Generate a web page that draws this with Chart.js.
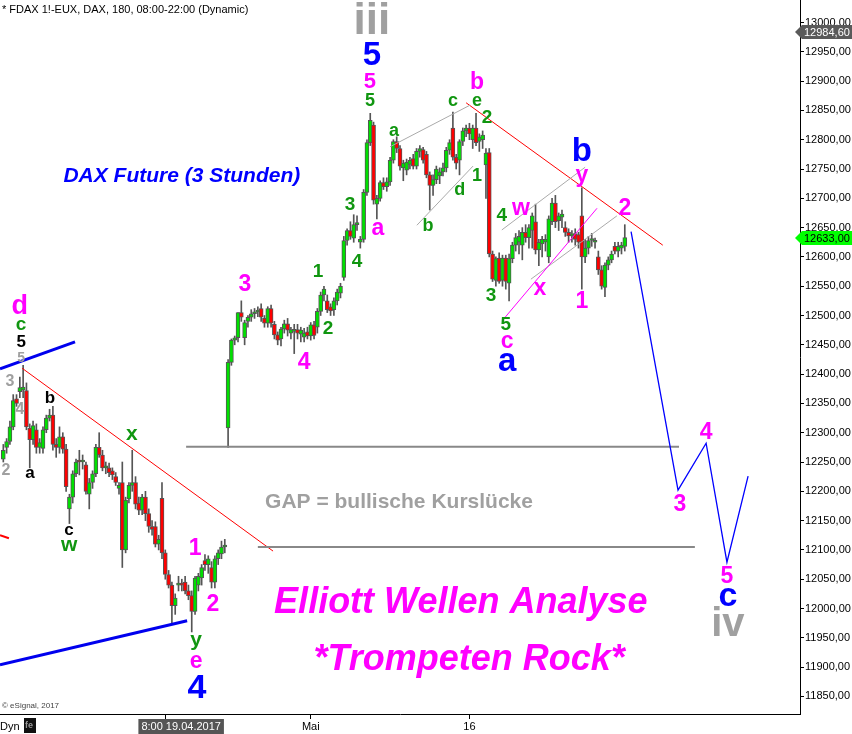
<!DOCTYPE html>
<html>
<head>
<meta charset="utf-8">
<script src="https://cdn.jsdelivr.net/npm/chart.js@4.4.1/dist/chart.umd.min.js"></script>
<style>
  html, body { margin: 0; padding: 0; background: #fff; }
  #wrap { width: 852px; height: 734px; position: relative; }
</style>
</head>
<body>
<div id="wrap"><canvas id="myChart"></canvas></div>
<script>
// 3-Stunden-Kerzen FDAX (Index = Kerze Nr.)
const openP = [
  12255,12275,12285,12310,12358,12370,12373,12372,12308,12288,
  12305,12275,12273,12305,12325,12330,12280,12275,12293,12272,
  12170,12190,12230,12253,12250,12245,12195,12215,12230,12275,
  12262,12240,12240,12235,12225,12205,12215,12100,12187,12210,
  12215,12180,12168,12190,12162,12140,12140,12110,12188,12095,
  12058,12040,12005,12040,12042,12045,12030,12022,11995,12040,
  12052,12082,12075,12070,12045,12085,12093,12105,12308,12420,
  12458,12462,12505,12462,12490,12497,12503,12506,12512,12495,
  12487,12512,12485,12467,12460,12477,12486,12470,12473,12476,
  12468,12463,12472,12465,12484,12480,12507,12535,12525,12515,
  12510,12525,12538,12565,12628,12645,12632,12655,12625,12630,
  12710,12795,12825,12690,12700,12727,12720,12728,12765,12797,
  12785,12752,12748,12758,12768,12755,12780,12783,12775,12740,
  12722,12732,12738,12745,12752,12782,12820,12770,12765,12797,
  12815,12820,12800,12820,12797,12800,12757,12778,12605,12560,
  12598,12560,12598,12555,12597,12620,12625,12620,12642,12633,
  12645,12660,12612,12622,12625,12600,12660,12692,12662,12668,
  12650,12642,12636,12640,12638,12670,12600,12615,12628,12625,
  12600,12578,12548,12586,12595,12618,12610,12615,12618
];
const highP = [
  12280,12290,12320,12365,12365,12395,12415,12385,12315,12320,
  12315,12290,12310,12330,12340,12345,12290,12310,12300,12280,
  12195,12235,12255,12270,12262,12250,12222,12235,12280,12300,
  12270,12250,12248,12240,12232,12215,12250,12190,12215,12270,
  12225,12190,12195,12200,12170,12150,12148,12125,12215,12100,
  12065,12045,12025,12055,12050,12055,12040,12030,12055,12060,
  12075,12092,12090,12080,12090,12100,12115,12118,12425,12460,
  12465,12505,12525,12492,12500,12510,12512,12515,12520,12500,
  12515,12518,12490,12472,12480,12492,12495,12480,12485,12485,
  12480,12478,12480,12488,12490,12512,12540,12550,12535,12520,
  12530,12545,12555,12635,12648,12660,12672,12670,12635,12715,
  12800,12845,12830,12705,12730,12735,12735,12770,12800,12805,
  12790,12765,12767,12770,12775,12785,12790,12787,12780,12745,
  12740,12755,12752,12760,12787,12800,12847,12775,12800,12820,
  12825,12828,12825,12845,12810,12815,12785,12785,12610,12600,
  12607,12603,12603,12605,12625,12640,12645,12650,12655,12655,
  12675,12690,12630,12635,12638,12670,12700,12705,12675,12680,
  12660,12648,12645,12648,12642,12718,12630,12635,12640,12632,
  12610,12585,12590,12600,12610,12625,12625,12625,12655
];
const lowP = [
  12250,12265,12280,12305,12345,12360,12360,12305,12240,12280,
  12265,12265,12265,12300,12320,12270,12258,12265,12265,12200,
  12145,12180,12225,12228,12238,12195,12170,12205,12225,12258,
  12235,12230,12225,12220,12210,12195,12070,12095,12180,12200,
  12170,12160,12160,12150,12130,12125,12105,12100,12085,12050,
  12035,11975,11990,12030,12030,12025,12015,11960,11990,12030,
  12040,12065,12060,12035,12035,12075,12085,12095,12275,12415,
  12450,12455,12490,12450,12480,12490,12495,12498,12490,12480,
  12480,12480,12460,12450,12448,12470,12465,12460,12435,12460,
  12455,12455,12460,12458,12460,12470,12500,12525,12505,12500,
  12500,12518,12530,12560,12620,12630,12625,12645,12615,12625,
  12705,12790,12690,12665,12695,12715,12712,12722,12760,12778,
  12748,12730,12740,12750,12750,12750,12770,12760,12735,12680,
  12705,12725,12725,12738,12745,12775,12765,12750,12740,12790,
  12805,12800,12785,12790,12780,12785,12700,12600,12558,12550,
  12555,12550,12545,12525,12590,12610,12605,12595,12625,12615,
  12615,12605,12585,12600,12610,12590,12655,12650,12645,12650,
  12635,12625,12625,12620,12615,12545,12590,12605,12618,12615,
  12570,12545,12532,12578,12590,12605,12600,12605,12610
];
const closeP = [
  12270,12285,12310,12355,12350,12377,12378,12310,12288,12312,
  12275,12283,12305,12325,12330,12280,12275,12293,12272,12208,
  12190,12230,12250,12250,12252,12200,12215,12230,12275,12262,
  12240,12242,12232,12228,12215,12210,12100,12185,12210,12215,
  12178,12168,12190,12162,12140,12135,12110,12118,12095,12058,
  12040,12005,12018,12042,12040,12030,12022,11995,12052,12055,
  12070,12075,12085,12045,12085,12095,12105,12108,12420,12458,
  12462,12505,12497,12488,12497,12503,12506,12508,12497,12487,
  12512,12487,12467,12458,12477,12486,12475,12476,12474,12470,
  12475,12470,12465,12484,12466,12507,12535,12545,12510,12508,
  12525,12540,12550,12628,12645,12635,12655,12658,12630,12710,
  12795,12833,12697,12700,12727,12720,12728,12765,12797,12785,
  12755,12760,12762,12765,12755,12780,12785,12765,12740,12722,
  12732,12750,12745,12752,12782,12795,12770,12760,12797,12815,
  12820,12810,12820,12795,12805,12808,12777,12605,12562,12597,
  12558,12598,12558,12597,12620,12633,12635,12642,12633,12650,
  12670,12612,12625,12630,12630,12665,12692,12660,12670,12673,
  12642,12636,12637,12630,12625,12600,12615,12628,12629,12626,
  12578,12550,12586,12595,12605,12610,12618,12620,12633
];

// Achsen
const yTickVals = [];
for (let v = 11850; v <= 13000; v += 50) yTickVals.push(v);
const xTickIdx = [49, 93, 141];
const xTickLabels = ['', 'Mai', '16'];
const cursorIdx = 53.8;
const cursorLabel = '8:00 19.04.2017';
const lastPrice = 12633.0;
const highMark = 12984.6;

// Wellen-Beschriftung: [Text, Kerze, Kurs, Farbe, Groesse, Stil]
const GR = '#109610', MG = '#ff00ff', BL = '#0000ff', GY = '#a0a0a0', BK = '#000000';
const labels = [
  ['iii', 111.5, 13001, GY, 44, ''], ['5', 111.5, 12943, BL, 33, ''],
  ['5', 110.9, 12899, MG, 22, ''], ['5', 110.9, 12866, GR, 18, ''],
  ['a', 118.2, 12815, GR, 18, ''], ['3', 104.9, 12689, GR, 19, ''],
  ['a', 113.3, 12649, MG, 23, ''], ['4', 107, 12591, GR, 19, ''],
  ['1', 95.2, 12574, GR, 19, ''], ['2', 98.2, 12477, GR, 19, ''],
  ['3', 73.1, 12552, MG, 23, ''], ['4', 91, 12419, MG, 23, ''],
  ['b', 128.5, 12653, GR, 18, ''], ['d', 138.1, 12714, GR, 18, ''],
  ['1', 143.3, 12738, GR, 18, ''], ['c', 136, 12866, GR, 18, ''],
  ['e', 143.3, 12866, GR, 18, ''], ['b', 143.3, 12897, MG, 23, ''],
  ['2', 146.3, 12837, GR, 19, ''], ['4', 150.8, 12670, GR, 19, ''],
  ['3', 147.5, 12533, GR, 19, ''], ['w', 156.6, 12682, MG, 23, ''],
  ['x', 162.3, 12545, MG, 23, ''], ['5', 152, 12484, GR, 19, ''],
  ['c', 152.4, 12455, MG, 23, ''], ['a', 152.4, 12421, BL, 33, ''],
  ['b', 175, 12779, BL, 33, ''], ['y', 175, 12738, MG, 23, ''],
  ['1', 175, 12523, MG, 23, ''], ['2', 188, 12683, MG, 23, ''],
  ['d', 5, 12516, MG, 27, ''], ['c', 5.4, 12484, GR, 19, ''],
  ['5', 5.4, 12455, BK, 17, ''], ['5', 5.4, 12428, GY, 14, ''],
  ['3', 2, 12388, GY, 16, ''], ['4', 5, 12339, GY, 16, ''],
  ['2', 0.8, 12235, GY, 16, ''], ['b', 14.1, 12359, BK, 17, ''],
  ['a', 8.1, 12230, BK, 17, ''], ['c', 19.9, 12134, BK, 17, ''],
  ['w', 19.9, 12108, GR, 21, ''], ['x', 38.9, 12298, GR, 21, ''],
  ['1', 58, 12102, MG, 23, ''], ['2', 63.4, 12006, MG, 23, ''],
  ['y', 58.3, 11946, GR, 21, ''], ['e', 58.3, 11909, MG, 23, ''],
  ['4', 58.6, 11864, BL, 34, ''], ['4', 212.6, 12300, MG, 23, ''],
  ['3', 204.7, 12177, MG, 23, ''], ['5', 218.9, 12054, MG, 23, ''],
  ['c', 219.2, 12020, BL, 34, ''], ['iv', 219.2, 11972, GY, 40, ''],
  ['DAX Future (3 Stunden)', 54, 12738, BL, 21, 'italic'],
  ['GAP = bullische Kurslücke', 119.7, 12182, GY, 21, ''],
  ['Elliott Wellen Analyse', 138.4, 12009, MG, 36, 'italic'],
  ['*Trompeten Rock*', 140.9, 11912, MG, 36, 'italic']
];

// Trendlinien: [Punkte (Kerze, Kurs)], Farbe, Breite
const lines = [
  [[[-1, 12409], [21.7, 12455]], '#0000ee', 3],
  [[[-1, 11904], [55.6, 11979]], '#0000ee', 3],
  [[[-1, 12125], [1.7, 12120]], '#ff0000', 2],
  [[[5.7, 12410], [81.6, 12098]], '#ff0000', 1],
  [[[55.3, 12276], [204.4, 12276]], '#888888', 2],
  [[[77, 12105], [209.2, 12105]], '#888888', 2],
  [[[140, 12863], [199.5, 12620]], '#ff0000', 1],
  [[[117, 12788], [141.2, 12859]], '#aaaaaa', 1],
  [[[125.1, 12654], [142.1, 12755]], '#aaaaaa', 1],
  [[[150.8, 12646], [176, 12753]], '#aaaaaa', 1],
  [[[159.6, 12562], [185.6, 12670]], '#aaaaaa', 1],
  [[[151.8, 12497], [179.6, 12683]], '#ff00ff', 1],
  [[[189.9, 12643], [204.1, 12202], [212.6, 12282], [218.9, 12079], [225.3, 12226]], '#0000ff', 1.3]
];

const fmt = v => v.toFixed(2).replace('.', ',');
const FONT = '"Liberation Sans", Arial, sans-serif';

const idx = openP.map((_, i) => i);
const wickData = idx.map(i => ({ x: i, y: [lowP[i], highP[i]] }));
const bodyData = idx.map(i => ({ x: i, y: [Math.min(openP[i], closeP[i]), Math.max(openP[i], closeP[i])] }));
const bodyColors = idx.map(i => closeP[i] >= openP[i] ? '#00e000' : '#ff0000');

const annotPlugin = {
  id: 'annot',
  afterDatasetsDraw(chart) {
    const { ctx, scales: { x, y } } = chart;
    ctx.save();
    lines.forEach(([pts, color, width]) => {
      ctx.beginPath();
      pts.forEach(([i, p], k) => {
        const px = x.getPixelForValue(i), py = y.getPixelForValue(p);
        if (k) ctx.lineTo(px, py); else ctx.moveTo(px, py);
      });
      ctx.strokeStyle = color;
      ctx.lineWidth = width;
      ctx.stroke();
    });
    ctx.textAlign = 'center';
    ctx.textBaseline = 'middle';
    labels.forEach(([txt, i, p, color, size, style]) => {
      ctx.font = (style ? style + ' ' : '') + 'bold ' + size + 'px ' + FONT;
      ctx.fillStyle = color;
      ctx.fillText(txt, x.getPixelForValue(i), y.getPixelForValue(p));
    });
    ctx.restore();
  },
  afterDraw(chart) {
    const { ctx, scales: { x, y } } = chart;
    ctx.save();
    ctx.textBaseline = 'middle';
    ctx.textAlign = 'left';
    ctx.fillStyle = '#000';
    ctx.font = '11px ' + FONT;
    ctx.fillText('* FDAX 1!-EUX, DAX, 180, 08:00-22:00 (Dynamic)', 2, 10);
    ctx.fillStyle = '#444';
    ctx.font = '8px ' + FONT;
    ctx.fillText('\u00a9 eSignal, 2017', 2, 706);

    // Kursmarken an der Achse
    const box = (val, bg, fg) => {
      const py = Math.round(y.getPixelForValue(val));
      const x0 = chart.chartArea.right;
      ctx.beginPath();
      ctx.moveTo(x0 - 5, py);
      ctx.lineTo(x0 + 2, py - 7);
      ctx.lineTo(852, py - 7);
      ctx.lineTo(852, py + 7);
      ctx.lineTo(x0 + 2, py + 7);
      ctx.closePath();
      ctx.fillStyle = bg;
      ctx.fill();
      ctx.fillStyle = fg;
      ctx.font = '11px ' + FONT;
      ctx.fillText(fmt(val), x0 + 4, py + 1);
    };
    box(highMark, '#5a5a5a', '#fff');
    box(lastPrice, '#00ff00', '#000');

    // Zeitmarke
    const cx = x.getPixelForValue(cursorIdx);
    ctx.font = '11px ' + FONT;
    const w = ctx.measureText(cursorLabel).width + 6;
    ctx.fillStyle = '#555';
    ctx.fillRect(cx - w / 2, 719, w, 15);
    ctx.fillStyle = '#fff';
    ctx.textAlign = 'center';
    ctx.fillText(cursorLabel, cx, 727);

    ctx.textAlign = 'left';
    ctx.fillStyle = '#000';
    ctx.fillText('Dyn', 0, 727);
    ctx.fillStyle = '#111';
    ctx.fillRect(24, 718, 12, 15);
    ctx.fillStyle = '#999';
    ctx.font = 'bold 9px ' + FONT;
    ctx.fillText('fe', 25, 726);
    ctx.restore();
  }
};

const ctx = document.getElementById('myChart').getContext('2d');
new Chart(ctx, {
  type: 'bar',
  data: {
    datasets: [{
      label: 'Koerper',
      data: bodyData,
      backgroundColor: bodyColors,
      borderColor: '#555',
      borderWidth: 1,
      borderSkipped: false,
      barThickness: 4,
      minBarLength: 2,
      grouped: false,
      order: 0
    }, {
      label: 'Dochte',
      data: wickData,
      backgroundColor: '#555',
      borderWidth: 0,
      barThickness: 1,
      grouped: false,
      order: 1
    }]
  },
  options: {
    responsive: true,
    maintainAspectRatio: false,
    animation: false,
    layout: { padding: 0 },
    plugins: { legend: { display: false }, tooltip: { enabled: false } },
    scales: {
      x: {
        type: 'linear',
        min: -1,
        max: 241,
        offset: false,
        border: { color: '#000', width: 1 },
        grid: { drawOnChartArea: false, offset: false, color: '#000', tickLength: 5 },
        ticks: {
          autoSkip: false,
          maxRotation: 0,
          padding: 1,
          color: '#000',
          font: { family: FONT, size: 11 },
          callback: (v, i) => xTickLabels[i]
        },
        afterBuildTicks: s => { s.ticks = xTickIdx.map(v => ({ value: v })); },
        afterFit: s => { s.height = 20; s.paddingLeft = 0; s.paddingRight = 0; }
      },
      y: {
        position: 'right',
        min: 11820,
        max: 13038.4,
        border: { color: '#000', width: 1 },
        grid: { drawOnChartArea: false, color: '#000', tickLength: 4 },
        ticks: {
          autoSkip: false,
          padding: 1,
          color: '#000',
          font: { family: FONT, size: 11 },
          callback: v => fmt(v)
        },
        afterBuildTicks: s => { s.ticks = yTickVals.map(v => ({ value: v })); },
        afterFit: s => { s.width = 52; s.paddingTop = 0; s.paddingBottom = 0; }
      }
    }
  },
  plugins: [annotPlugin]
});
</script>
</body>
</html>
